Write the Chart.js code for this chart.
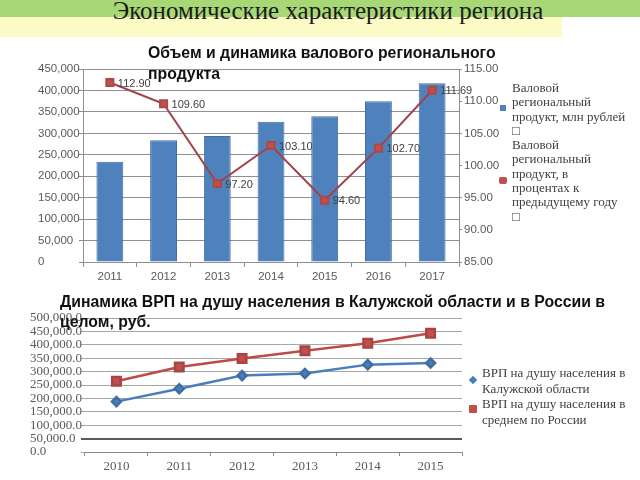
<!DOCTYPE html>
<html><head><meta charset="utf-8">
<script src="https://cdn.jsdelivr.net/npm/chart.js@4"></script>
<style>
html,body{margin:0;padding:0;background:#fff;}
body{width:640px;height:480px;position:relative;overflow:hidden;font-family:"Liberation Sans",Arial,sans-serif;}
.abs{position:absolute;}
.ttl{font-weight:bold;font-size:15.8px;color:#111;white-space:nowrap;z-index:5;}
.leg{font-family:"Liberation Serif","DejaVu Serif",serif;font-size:13px;color:#404040;white-space:nowrap;z-index:5;}
</style></head><body>
<div class="abs" style="left:0;top:0;width:640px;height:17px;background:#a8d775"></div>
<div class="abs" style="left:0;top:17px;width:562px;height:20px;background:#fcfbc6"></div>
<div class="abs" style="left:0;top:-2px;width:656px;text-align:center;font-family:'Liberation Serif',serif;font-size:25px;color:#1b1b1b;line-height:26px;z-index:5">Экономические характеристики региона</div>

<div class="abs" style="left:0;top:40px;width:640px;height:245px"><canvas id="c1" width="640" height="245"></canvas></div>
<div class="abs" style="left:0;top:300px;width:640px;height:180px"><canvas id="c2" width="640" height="180"></canvas></div>

<div class="abs ttl" style="left:148px;top:42px;line-height:21px">Объем и динамика валового регионального<br>продукта</div>
<div class="abs ttl" style="left:60px;top:292px;line-height:20px">Динамика ВРП на душу населения в Калужской области и в России в<br>целом, руб.</div>

<div class="abs leg" style="left:512px;top:81px;line-height:14.3px">Валовой<br>региональный<br>продукт, млн рублей<br>□<br>Валовой<br>региональный<br>продукт, в<br>процентах к<br>предыдущему году<br>□</div>
<div class="abs" style="left:500px;top:105px;width:6px;height:6px;background:#4f81bd"></div>
<div class="abs" style="left:499px;top:177px;width:8px;height:7px;border-radius:2px;background:#c0504d"></div>

<div class="abs leg" style="left:482px;top:365px;line-height:15.5px">ВРП на душу населения в<br>Калужской области<br>ВРП на душу населения в<br>среднем по России</div>
<div class="abs" style="left:470px;top:377px;width:6px;height:6px;background:#4a7ebb;transform:rotate(45deg)"></div>
<div class="abs" style="left:469px;top:405px;width:8px;height:8px;border-radius:1px;background:#c0504d"></div>

<script>
// ---- Chart 1 data ----
const years1 = ['2011','2012','2013','2014','2015','2016','2017'];
const grpValues = [234000, 284000, 294000, 327000, 340000, 375000, 417000];
const grpIndex = [112.90, 109.60, 97.20, 103.10, 94.60, 102.70, 111.69];
const grpLabels = ['112.90','109.60','97.20','103.10','94.60','102.70','111.69'];

// ---- Chart 2 data ----
const years2 = ['2010','2011','2012','2013','2014','2015'];
const kalugaPerCapita = [188000, 236000, 285000, 293000, 326000, 332000];
const russiaPerCapita = [264000, 317000, 349000, 378000, 406000, 443000];

const fmtInt = v => Number(v).toLocaleString('en-US');
const fmt1 = v => Number(v).toLocaleString('en-US',{minimumFractionDigits:1,maximumFractionDigits:1});

const labelPlugin = {
  id:'pointLabels',
  afterDatasetsDraw(chart){
    const meta = chart.getDatasetMeta(1);
    const ctx = chart.ctx;
    ctx.save();
    ctx.font = "11px 'Liberation Sans', Arial, sans-serif";
    ctx.fillStyle = '#404040';
    ctx.textBaseline = 'middle';
    ctx.textAlign = 'left';
    meta.data.forEach((pt,i)=>{ ctx.fillText(grpLabels[i], pt.x+8, pt.y+1); });
    ctx.restore();
  }
};

const sansTick = {family:"'Liberation Sans', Arial, sans-serif", size:11.5};
const serifTick = {family:"'Liberation Serif', 'Times New Roman', serif", size:13};

new Chart(document.getElementById('c1'), {
  data:{
    labels: years1,
    datasets:[
      {type:'bar', data:grpValues, yAxisID:'y', backgroundColor:'#4f81bd', borderColor:'#3f6fa8', borderWidth:1,
       barPercentage:0.5, categoryPercentage:1, order:1},
      {type:'line', data:grpIndex, yAxisID:'y1', borderColor:'#a0434a', borderWidth:2,
       pointStyle:'rect', pointRadius:5, pointBackgroundColor:'#c0504d', pointBorderColor:'#b04747', order:0}
    ]
  },
  options:{
    responsive:false, animation:false,
    layout:{padding:{left:38, right:131, top:29, bottom:0}},
    plugins:{legend:{display:false}, tooltip:{enabled:false}},
    scales:{
      x:{offset:true, grid:{offset:true, drawOnChartArea:false, tickLength:5, color:'#8f8f8f'},
         border:{display:true, color:'#8f8f8f'},
         ticks:{font:sansTick, color:'#595959', padding:3},
         afterFit(s){ s.height = 23; }},
      y:{position:'left', min:0, max:450000,
         grid:{color:'#8f8f8f', tickLength:4},
         border:{display:true, color:'#8f8f8f'},
         ticks:{stepSize:50000, autoSkip:false, callback:v=>fmtInt(v), font:sansTick, color:'#595959', crossAlign:'far', padding:2},
         afterFit(s){ s.width = 45; }},
      y1:{position:'right', min:85, max:115,
         grid:{drawOnChartArea:false, tickLength:3, color:'#8f8f8f'},
         border:{display:true, color:'#8f8f8f'},
         ticks:{stepSize:5, autoSkip:false, callback:v=>Number(v).toFixed(2), font:sansTick, color:'#595959', padding:2},
         afterFit(s){ s.width = 50; }}
    }
  },
  plugins:[labelPlugin]
});

new Chart(document.getElementById('c2'), {
  type:'line',
  data:{
    labels: years2,
    datasets:[
      {data:kalugaPerCapita, borderColor:'#4a7ebb', borderWidth:2.5, pointStyle:'rectRot', pointRadius:4.5,
       pointBackgroundColor:'#4a7ebb', pointBorderColor:'#3f6da5'},
      {data:russiaPerCapita, borderColor:'#be4b48', borderWidth:2.5, pointStyle:'rect', pointRadius:6,
       pointBackgroundColor:'#c0504d', pointBorderColor:'#a94442'}
    ]
  },
  options:{
    responsive:false, animation:false,
    layout:{padding:{left:30, right:178, top:18, bottom:0}},
    plugins:{legend:{display:false}, tooltip:{enabled:false}},
    scales:{
      x:{offset:true, grid:{offset:true, drawOnChartArea:false, tickLength:4, color:'#8c8c8c'},
         border:{display:true, color:'#8c8c8c'},
         ticks:{font:serifTick, color:'#595959', padding:3},
         afterFit(s){ s.height = 28; }},
      y:{min:0, max:500000,
         grid:{color:c=> (c.tick && c.tick.value===50000) ? '#5a5a5a' : '#a6a6a6',
               lineWidth:c=> (c.tick && c.tick.value===50000) ? 2 : 1, tickLength:4},
         border:{display:false},
         ticks:{stepSize:50000, autoSkip:false, callback:v=>fmt1(v), font:serifTick, color:'#595959', crossAlign:'far', padding:2},
         afterFit(s){ s.width = 55; }}
    }
  }
});
</script>
</body></html>
